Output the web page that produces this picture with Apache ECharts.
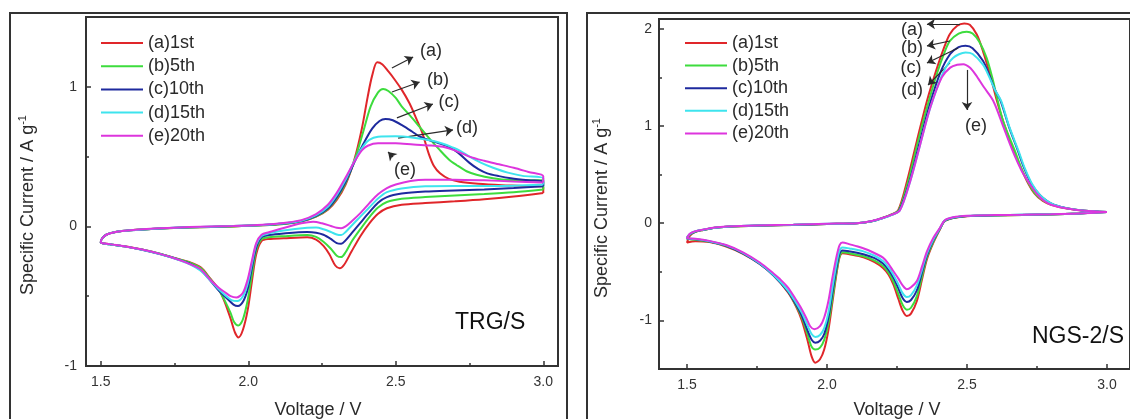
<!DOCTYPE html>
<html><head><meta charset="utf-8">
<script src="https://cdn.jsdelivr.net/npm/echarts@6/dist/echarts.min.js"></script>
<style>html,body{margin:0;padding:0;background:#fff}#c{width:1130px;height:419px}</style>
</head><body><div id="c"></div>
<script>
// ---------- categories / labels ----------
const cycleNames = ['(a)1st', '(b)5th', '(c)10th', '(d)15th', '(e)20th'];
const arrowLabels = ['(a)', '(b)', '(c)', '(d)', '(e)'];
const panelTitles = ['TRG/S', 'NGS-2/S'];
const xTitle = 'Voltage / V';
const yTitleMain = 'Specific Current / A g';
const yTitleSup = '-1';

// ---------- TRG/S panel: [voltage, current] ----------
const trg1stCathodic = [[3.0,0.24],[2.9,0.215],[2.8,0.195],[2.7,0.18],[2.6,0.167],[2.52,0.155],[2.47,0.13],[2.44,0.09],[2.41,0.02],[2.38,-0.07],[2.35,-0.18],[2.325,-0.275],[2.31,-0.3],[2.295,-0.28],[2.275,-0.2],[2.255,-0.14],[2.23,-0.095],[2.2,-0.078],[2.12,-0.085],[2.07,-0.09],[2.045,-0.105],[2.027,-0.2],[2.012,-0.4],[1.998,-0.6],[1.982,-0.74],[1.967,-0.795],[1.955,-0.76],[1.94,-0.66],[1.92,-0.54],[1.9,-0.45],[1.87,-0.37],[1.84,-0.295],[1.8,-0.255],[1.76,-0.232],[1.7,-0.195],[1.64,-0.165],[1.58,-0.142],[1.53,-0.127],[1.5,-0.115]];
const trg1stAnodic = [[1.505,-0.085],[1.52,-0.058],[1.55,-0.04],[1.6,-0.028],[1.7,-0.015],[1.8,-0.007],[1.95,0.0],[2.05,0.008],[2.12,0.018],[2.18,0.035],[2.23,0.07],[2.27,0.12],[2.3,0.19],[2.33,0.3],[2.36,0.48],[2.385,0.7],[2.405,0.93],[2.42,1.08],[2.437,1.175],[2.455,1.16],[2.475,1.11],[2.49,1.07],[2.52,0.98],[2.547,0.88],[2.57,0.77],[2.59,0.67],[2.612,0.52],[2.63,0.43],[2.65,0.38],[2.68,0.34],[2.716,0.32],[2.78,0.305],[2.86,0.295],[2.93,0.29],[3.0,0.28],[3.0,0.24]];
const trg5thCathodic = [[3.0,0.265],[2.9,0.245],[2.8,0.232],[2.7,0.222],[2.6,0.21],[2.52,0.198],[2.47,0.175],[2.44,0.135],[2.41,0.065],[2.38,-0.02],[2.35,-0.11],[2.33,-0.185],[2.315,-0.22],[2.3,-0.21],[2.28,-0.16],[2.255,-0.11],[2.23,-0.075],[2.2,-0.062],[2.12,-0.07],[2.07,-0.078],[2.045,-0.092],[2.027,-0.17],[2.012,-0.35],[1.998,-0.53],[1.982,-0.665],[1.966,-0.71],[1.952,-0.685],[1.94,-0.62],[1.92,-0.53],[1.9,-0.455],[1.87,-0.375],[1.84,-0.3],[1.8,-0.258],[1.76,-0.233],[1.7,-0.196],[1.64,-0.166],[1.58,-0.143],[1.53,-0.128],[1.5,-0.116]];
const trg5thAnodic = [[1.505,-0.085],[1.52,-0.058],[1.55,-0.04],[1.6,-0.028],[1.7,-0.015],[1.8,-0.007],[1.95,0.0],[2.05,0.008],[2.12,0.018],[2.18,0.036],[2.23,0.072],[2.27,0.125],[2.3,0.2],[2.33,0.31],[2.36,0.47],[2.39,0.68],[2.415,0.86],[2.44,0.96],[2.457,0.985],[2.475,0.97],[2.5,0.92],[2.52,0.86],[2.55,0.79],[2.58,0.715],[2.61,0.64],[2.648,0.55],[2.68,0.48],[2.706,0.44],[2.74,0.395],[2.774,0.37],[2.83,0.345],[2.885,0.332],[2.95,0.33],[3.0,0.33],[3.0,0.265]];
const trg10thCathodic = [[3.0,0.288],[2.9,0.275],[2.8,0.265],[2.7,0.258],[2.6,0.25],[2.52,0.235],[2.47,0.21],[2.44,0.17],[2.41,0.1],[2.38,0.025],[2.35,-0.05],[2.33,-0.1],[2.315,-0.125],[2.3,-0.12],[2.28,-0.09],[2.255,-0.06],[2.23,-0.045],[2.2,-0.04],[2.12,-0.05],[2.07,-0.062],[2.045,-0.078],[2.027,-0.15],[2.012,-0.3],[1.998,-0.45],[1.982,-0.54],[1.965,-0.57],[1.95,-0.56],[1.93,-0.52],[1.9,-0.46],[1.87,-0.385],[1.84,-0.315],[1.8,-0.265],[1.76,-0.235],[1.7,-0.198],[1.64,-0.167],[1.58,-0.143],[1.53,-0.128],[1.5,-0.116]];
const trg10thAnodic = [[1.505,-0.085],[1.52,-0.058],[1.55,-0.04],[1.6,-0.028],[1.7,-0.015],[1.8,-0.006],[1.95,0.002],[2.05,0.01],[2.12,0.02],[2.18,0.038],[2.23,0.076],[2.27,0.13],[2.3,0.21],[2.33,0.32],[2.36,0.46],[2.39,0.59],[2.42,0.7],[2.445,0.755],[2.465,0.77],[2.49,0.76],[2.525,0.72],[2.555,0.68],[2.58,0.645],[2.61,0.62],[2.64,0.6],[2.68,0.57],[2.71,0.53],[2.75,0.455],[2.78,0.41],[2.81,0.38],[2.85,0.36],[2.89,0.345],[2.95,0.33],[3.0,0.32],[3.0,0.288]];
const trg15thCathodic = [[3.0,0.3],[2.9,0.292],[2.8,0.29],[2.7,0.29],[2.6,0.288],[2.52,0.272],[2.47,0.245],[2.44,0.2],[2.41,0.135],[2.38,0.07],[2.35,0.005],[2.33,-0.04],[2.315,-0.062],[2.3,-0.058],[2.28,-0.04],[2.255,-0.02],[2.23,-0.008],[2.2,-0.01],[2.12,-0.03],[2.07,-0.05],[2.045,-0.068],[2.027,-0.13],[2.012,-0.27],[1.998,-0.41],[1.982,-0.5],[1.963,-0.535],[1.945,-0.53],[1.92,-0.49],[1.9,-0.45],[1.87,-0.385],[1.84,-0.32],[1.8,-0.27],[1.76,-0.237],[1.7,-0.198],[1.64,-0.167],[1.58,-0.143],[1.53,-0.128],[1.5,-0.116]];
const trg15thAnodic = [[1.505,-0.085],[1.52,-0.058],[1.55,-0.04],[1.6,-0.028],[1.7,-0.015],[1.8,-0.006],[1.95,0.002],[2.05,0.01],[2.12,0.022],[2.18,0.04],[2.23,0.08],[2.27,0.14],[2.3,0.225],[2.33,0.335],[2.36,0.47],[2.39,0.575],[2.41,0.62],[2.44,0.642],[2.5,0.645],[2.56,0.635],[2.62,0.615],[2.66,0.592],[2.69,0.568],[2.72,0.54],[2.75,0.5],[2.79,0.455],[2.83,0.42],[2.88,0.385],[2.93,0.362],[3.0,0.345],[3.0,0.3]];
const trg20thCathodic = [[3.0,0.315],[2.9,0.322],[2.8,0.33],[2.7,0.335],[2.6,0.335],[2.55,0.325],[2.5,0.3],[2.47,0.275],[2.44,0.23],[2.41,0.165],[2.38,0.095],[2.35,0.035],[2.33,0.0],[2.315,-0.013],[2.3,-0.01],[2.28,0.003],[2.25,0.022],[2.22,0.033],[2.18,0.022],[2.12,-0.012],[2.07,-0.042],[2.045,-0.06],[2.027,-0.12],[2.012,-0.25],[1.998,-0.38],[1.982,-0.475],[1.96,-0.51],[1.94,-0.5],[1.92,-0.47],[1.9,-0.44],[1.87,-0.38],[1.84,-0.31],[1.8,-0.268],[1.76,-0.236],[1.7,-0.197],[1.64,-0.166],[1.58,-0.142],[1.53,-0.127],[1.5,-0.115]];
const trg20thAnodic = [[1.505,-0.085],[1.52,-0.058],[1.55,-0.04],[1.6,-0.027],[1.7,-0.014],[1.8,-0.005],[1.95,0.003],[2.05,0.012],[2.12,0.025],[2.18,0.045],[2.23,0.088],[2.27,0.155],[2.3,0.24],[2.33,0.35],[2.36,0.465],[2.385,0.545],[2.405,0.578],[2.44,0.595],[2.5,0.595],[2.56,0.586],[2.62,0.58],[2.66,0.57],[2.7,0.545],[2.75,0.5],[2.8,0.47],[2.85,0.445],[2.9,0.42],[2.95,0.39],[3.0,0.36],[3.0,0.315]];

// ---------- NGS-2/S panel: [voltage, current] ----------
const ngs1stCathodic = [[3.0,0.115],[2.9,0.1],[2.8,0.09],[2.7,0.085],[2.6,0.08],[2.5,0.072],[2.45,0.052],[2.42,0.02],[2.404,-0.06],[2.38,-0.2],[2.357,-0.37],[2.34,-0.57],[2.321,-0.8],[2.3,-0.93],[2.285,-0.955],[2.27,-0.9],[2.255,-0.78],[2.237,-0.63],[2.22,-0.53],[2.2,-0.46],[2.17,-0.4],[2.13,-0.35],[2.08,-0.32],[2.055,-0.31],[2.045,-0.35],[2.035,-0.5],[2.02,-0.8],[2.005,-1.1],[1.99,-1.3],[1.975,-1.4],[1.958,-1.435],[1.945,-1.37],[1.93,-1.2],[1.91,-1.0],[1.89,-0.86],[1.86,-0.71],[1.81,-0.54],[1.76,-0.42],[1.7,-0.315],[1.64,-0.24],[1.58,-0.195],[1.53,-0.185],[1.5,-0.2]];
const ngs1stAnodic = [[1.51,-0.13],[1.53,-0.09],[1.558,-0.07],[1.6,-0.048],[1.642,-0.038],[1.75,-0.026],[1.88,-0.018],[2.0,-0.008],[2.106,0.0],[2.16,0.02],[2.2,0.055],[2.23,0.09],[2.254,0.13],[2.286,0.434],[2.321,0.846],[2.357,1.257],[2.393,1.597],[2.42,1.82],[2.439,1.946],[2.465,2.03],[2.49,2.055],[2.51,2.04],[2.535,1.94],[2.557,1.77],[2.583,1.52],[2.607,1.257],[2.63,1.04],[2.654,0.846],[2.685,0.62],[2.714,0.434],[2.74,0.31],[2.771,0.228],[2.8,0.19],[2.857,0.15],[2.92,0.128],[3.0,0.115]];
const ngs5thCathodic = [[3.0,0.115],[2.9,0.1],[2.8,0.09],[2.7,0.085],[2.6,0.08],[2.5,0.073],[2.45,0.054],[2.42,0.022],[2.404,-0.055],[2.38,-0.19],[2.357,-0.35],[2.34,-0.54],[2.321,-0.75],[2.3,-0.87],[2.285,-0.89],[2.27,-0.84],[2.255,-0.73],[2.237,-0.6],[2.22,-0.51],[2.2,-0.44],[2.17,-0.385],[2.13,-0.34],[2.08,-0.31],[2.055,-0.3],[2.045,-0.34],[2.035,-0.48],[2.02,-0.76],[2.005,-1.03],[1.99,-1.2],[1.975,-1.28],[1.958,-1.3],[1.945,-1.27],[1.93,-1.14],[1.91,-0.97],[1.89,-0.85],[1.86,-0.7],[1.81,-0.535],[1.76,-0.415],[1.7,-0.31],[1.64,-0.235],[1.58,-0.19],[1.53,-0.17],[1.5,-0.16]];
const ngs5thAnodic = [[1.51,-0.12],[1.53,-0.088],[1.558,-0.07],[1.6,-0.048],[1.642,-0.038],[1.75,-0.026],[1.88,-0.018],[2.0,-0.008],[2.106,0.0],[2.16,0.02],[2.2,0.055],[2.23,0.088],[2.256,0.13],[2.29,0.43],[2.325,0.84],[2.358,1.2],[2.394,1.55],[2.42,1.76],[2.439,1.874],[2.47,1.95],[2.499,1.97],[2.52,1.95],[2.545,1.86],[2.57,1.7],[2.59,1.5],[2.608,1.28],[2.63,1.04],[2.671,0.743],[2.695,0.56],[2.718,0.42],[2.745,0.3],[2.775,0.23],[2.8,0.195],[2.857,0.152],[2.92,0.128],[3.0,0.115]];
const ngs10thCathodic = [[3.0,0.115],[2.9,0.1],[2.8,0.091],[2.7,0.086],[2.6,0.081],[2.5,0.074],[2.45,0.056],[2.42,0.024],[2.404,-0.052],[2.38,-0.175],[2.357,-0.33],[2.34,-0.5],[2.321,-0.69],[2.3,-0.79],[2.285,-0.81],[2.27,-0.77],[2.255,-0.67],[2.237,-0.56],[2.22,-0.48],[2.2,-0.415],[2.17,-0.36],[2.13,-0.32],[2.08,-0.29],[2.055,-0.28],[2.045,-0.31],[2.035,-0.44],[2.02,-0.7],[2.005,-0.97],[1.99,-1.14],[1.975,-1.21],[1.958,-1.23],[1.945,-1.2],[1.93,-1.1],[1.91,-0.95],[1.89,-0.84],[1.86,-0.7],[1.81,-0.54],[1.76,-0.42],[1.7,-0.31],[1.64,-0.232],[1.58,-0.188],[1.53,-0.165],[1.5,-0.155]];
const ngs10thAnodic = [[1.51,-0.115],[1.53,-0.085],[1.558,-0.068],[1.6,-0.047],[1.642,-0.037],[1.75,-0.025],[1.88,-0.017],[2.0,-0.008],[2.106,0.0],[2.16,0.02],[2.2,0.053],[2.23,0.085],[2.258,0.13],[2.295,0.43],[2.33,0.82],[2.365,1.2],[2.405,1.55],[2.44,1.74],[2.47,1.81],[2.495,1.825],[2.52,1.8],[2.557,1.67],[2.58,1.52],[2.6,1.37],[2.62,1.257],[2.65,0.99],[2.682,0.743],[2.705,0.56],[2.731,0.4],[2.76,0.29],[2.785,0.23],[2.81,0.19],[2.86,0.152],[2.92,0.128],[3.0,0.115]];
const ngs15thCathodic = [[3.0,0.115],[2.9,0.1],[2.8,0.091],[2.7,0.086],[2.6,0.082],[2.5,0.075],[2.45,0.058],[2.42,0.026],[2.404,-0.05],[2.38,-0.165],[2.357,-0.31],[2.34,-0.47],[2.321,-0.64],[2.3,-0.74],[2.285,-0.76],[2.27,-0.72],[2.255,-0.63],[2.237,-0.53],[2.22,-0.455],[2.2,-0.39],[2.17,-0.335],[2.13,-0.29],[2.08,-0.26],[2.055,-0.25],[2.045,-0.28],[2.035,-0.4],[2.02,-0.65],[2.005,-0.92],[1.99,-1.08],[1.975,-1.15],[1.958,-1.17],[1.945,-1.14],[1.93,-1.05],[1.91,-0.92],[1.89,-0.82],[1.86,-0.69],[1.81,-0.535],[1.76,-0.415],[1.7,-0.305],[1.64,-0.228],[1.58,-0.185],[1.53,-0.162],[1.5,-0.155]];
const ngs15thAnodic = [[1.51,-0.112],[1.53,-0.083],[1.558,-0.067],[1.6,-0.046],[1.642,-0.036],[1.75,-0.024],[1.88,-0.016],[2.0,-0.007],[2.106,0.0],[2.16,0.02],[2.2,0.052],[2.23,0.083],[2.26,0.13],[2.297,0.43],[2.332,0.8],[2.367,1.17],[2.415,1.55],[2.45,1.7],[2.495,1.755],[2.52,1.74],[2.557,1.63],[2.58,1.5],[2.6,1.37],[2.622,1.257],[2.65,1.0],[2.684,0.743],[2.707,0.56],[2.733,0.4],[2.76,0.29],[2.785,0.23],[2.81,0.19],[2.86,0.152],[2.92,0.128],[3.0,0.115]];
const ngs20thCathodic = [[3.0,0.115],[2.9,0.1],[2.8,0.092],[2.7,0.087],[2.6,0.083],[2.5,0.076],[2.45,0.06],[2.42,0.028],[2.404,-0.045],[2.38,-0.15],[2.357,-0.29],[2.34,-0.44],[2.321,-0.595],[2.3,-0.66],[2.285,-0.68],[2.27,-0.64],[2.255,-0.57],[2.236,-0.49],[2.22,-0.42],[2.2,-0.355],[2.154,-0.286],[2.11,-0.24],[2.082,-0.218],[2.055,-0.198],[2.045,-0.225],[2.035,-0.33],[2.02,-0.55],[2.005,-0.8],[1.99,-0.97],[1.975,-1.06],[1.955,-1.09],[1.94,-1.06],[1.925,-0.97],[1.905,-0.86],[1.89,-0.79],[1.86,-0.66],[1.83,-0.57],[1.81,-0.52],[1.76,-0.405],[1.7,-0.3],[1.64,-0.225],[1.58,-0.182],[1.53,-0.16],[1.5,-0.155]];
const ngs20thAnodic = [[1.51,-0.11],[1.53,-0.082],[1.558,-0.066],[1.6,-0.045],[1.642,-0.035],[1.75,-0.023],[1.88,-0.015],[2.0,-0.006],[2.106,0.0],[2.16,0.022],[2.2,0.055],[2.23,0.085],[2.26,0.13],[2.297,0.43],[2.332,0.8],[2.37,1.2],[2.41,1.5],[2.44,1.6],[2.465,1.63],[2.487,1.635],[2.51,1.6],[2.53,1.53],[2.56,1.4],[2.594,1.257],[2.63,0.99],[2.663,0.743],[2.695,0.54],[2.725,0.4],[2.75,0.3],[2.775,0.23],[2.8,0.19],[2.857,0.15],[2.92,0.128],[3.0,0.115]];

// ---------- annotation arrows (data coords: [from, to]) ----------
const trgArrows = [[[2.487,1.135],[2.559,1.213]],[[2.487,0.963],[2.581,1.034]],[[2.504,0.777],[2.626,0.877]],[[2.508,0.633],[2.694,0.691]],[[2.491,0.497],[2.474,0.533]]];
const ngsArrows = [[[2.475,2.049],[2.357,2.049]],[[2.439,1.874],[2.357,1.823]],[[2.468,1.802],[2.357,1.648]],[[2.439,1.648],[2.361,1.421]],[[2.5,1.576],[2.5,1.164]]];

// ---------- styling ----------
const FONT = '"Liberation Sans", Arial, sans-serif';
const colors = ['#e0262a', '#3ddc3d', '#1e2a9e', '#3ee4ee', '#dd35dd'];
const INK = '#2a2a2a';

const trgCurves = [[trg1stCathodic,trg1stAnodic],[trg5thCathodic,trg5thAnodic],[trg10thCathodic,trg10thAnodic],[trg15thCathodic,trg15thAnodic],[trg20thCathodic,trg20thAnodic]];
const ngsCurves = [[ngs1stCathodic,ngs1stAnodic],[ngs5thCathodic,ngs5thAnodic],[ngs10thCathodic,ngs10thAnodic],[ngs15thCathodic,ngs15thAnodic],[ngs20thCathodic,ngs20thAnodic]];

function makeSeries(curves, arrows, axisIdx) {
  return curves.map((c, i) => ({
    type: 'line', name: cycleNames[i], xAxisIndex: axisIdx, yAxisIndex: axisIdx,
    data: c[0].concat(c[1]), showSymbol: false, smooth: 0.3, clip: false, silent: true,
    lineStyle: { width: 2, color: colors[i] }, itemStyle: { color: colors[i] },
    emphasis: { disabled: true }, z: 2 + i, animation: false,
    markLine: {
      silent: true, animation: false, symbol: ['none', 'arrow'], symbolSize: 8,
      lineStyle: { color: INK, width: 1.2, type: 'solid' }, label: { show: false },
      emphasis: { disabled: true },
      data: [[{ coord: arrows[i][0] }, { coord: arrows[i][1] }]]
    }
  }));
}

const tickStyle = { color: '#333', width: 1.5 };
function tickAxis(extra) {
  return Object.assign({
    type: 'value',
    axisLine: { show: false, onZero: false },
    axisTick: { show: true, inside: true, length: 5, lineStyle: tickStyle },
    minorTick: { show: true, splitNumber: 2, length: 3, lineStyle: tickStyle },
    splitLine: { show: false }, minorSplitLine: { show: false },
  }, extra);
}
const hiddenAxis = (g, min, max) => ({ type: 'value', gridIndex: g, min, max, show: false, axisLine: { onZero: false }, splitLine: { show: false } });

const frameStyle = { show: true, borderColor: '#333', borderWidth: 2, backgroundColor: 'transparent' };

const option = {
  backgroundColor: '#fff',
  animation: false,
  textStyle: { fontFamily: FONT },
  grid: [
    Object.assign({ left: 86, top: 17, width: 472, height: 349 }, frameStyle),
    { left: 100.75, top: 17, width: 442.5, height: 349 },
    { left: 86, top: 86.8, width: 472, height: 279.2 },
    Object.assign({ left: 659, top: 19, width: 476, height: 350 }, frameStyle),
    { left: 687, top: 19, width: 420, height: 350 },
    { left: 659, top: 28.72, width: 476, height: 291.67 }
  ],
  xAxis: [
    hiddenAxis(0, 1.45, 3.05),
    tickAxis({ gridIndex: 1, min: 1.5, max: 3.0, interval: 0.5,
      axisLabel: { color: '#333', fontSize: 14, fontFamily: FONT, margin: 9, formatter: v => v.toFixed(1) } }),
    hiddenAxis(2, 0, 1),
    hiddenAxis(3, 1.4, 3.1),
    tickAxis({ gridIndex: 4, min: 1.5, max: 3.0, interval: 0.5,
      axisLabel: { color: '#333', fontSize: 14, fontFamily: FONT, margin: 9, formatter: v => v.toFixed(1) } }),
    hiddenAxis(5, 0, 1)
  ],
  yAxis: [
    hiddenAxis(0, -1, 1.5),
    hiddenAxis(1, -1, 1.5),
    tickAxis({ gridIndex: 2, min: -1, max: 1, interval: 1,
      axisLabel: { color: '#333', fontSize: 14, fontFamily: FONT, margin: 9 } }),
    hiddenAxis(3, -1.5, 2.1),
    hiddenAxis(4, -1.5, 2.1),
    tickAxis({ gridIndex: 5, min: -1, max: 2, interval: 1,
      axisLabel: { color: '#333', fontSize: 14, fontFamily: FONT, margin: 7 } })
  ],
  legend: [
    { data: cycleNames, orient: 'vertical', left: 101, top: 34, padding: 0, itemWidth: 42, itemHeight: 2,
      itemGap: 5.2, icon: 'rect', selectedMode: false, textStyle: { fontSize: 18, color: INK, fontFamily: FONT } },
    { data: cycleNames, orient: 'vertical', left: 685, top: 34, padding: 0, itemWidth: 42, itemHeight: 2,
      itemGap: 4.6, icon: 'rect', selectedMode: false, textStyle: { fontSize: 18, color: INK, fontFamily: FONT } }
  ],
  graphic: [
    { type: 'rect', silent: true, shape: { x: 10, y: 13, width: 557, height: 430 }, style: { fill: 'none', stroke: '#333', lineWidth: 2 } },
    { type: 'rect', silent: true, shape: { x: 587, y: 13, width: 600, height: 430 }, style: { fill: 'none', stroke: '#333', lineWidth: 2 } },
    { type: 'text', silent: true, x: 28, y: 205, rotation: Math.PI / 2,
      style: { text: '{m|' + yTitleMain + '}{s|' + yTitleSup + '}', align: 'center', verticalAlign: 'middle', fill: INK,
        rich: { m: { fontSize: 18, lineHeight: 22, fontFamily: FONT, fill: INK }, s: { fontSize: 11, lineHeight: 12, verticalAlign: 'top', fontFamily: FONT, fill: INK } } } },
    { type: 'text', silent: true, x: 602, y: 208, rotation: Math.PI / 2,
      style: { text: '{m|' + yTitleMain + '}{s|' + yTitleSup + '}', align: 'center', verticalAlign: 'middle', fill: INK,
        rich: { m: { fontSize: 18, lineHeight: 22, fontFamily: FONT, fill: INK }, s: { fontSize: 11, lineHeight: 12, verticalAlign: 'top', fontFamily: FONT, fill: INK } } } },
    { type: 'text', silent: true, x: 318, y: 410, style: { text: xTitle, font: '18px ' + FONT, fill: INK, align: 'center', verticalAlign: 'middle' } },
    { type: 'text', silent: true, x: 897, y: 410, style: { text: xTitle, font: '18px ' + FONT, fill: INK, align: 'center', verticalAlign: 'middle' } },
    { type: 'text', silent: true, x: 455, y: 323, style: { text: panelTitles[0], font: '23px ' + FONT, fill: '#111', align: 'left', verticalAlign: 'middle' } },
    { type: 'text', silent: true, x: 1032, y: 337, style: { text: panelTitles[1], font: '23px ' + FONT, fill: '#111', align: 'left', verticalAlign: 'middle' } },
    // annotation labels, left panel
    { type: 'text', silent: true, x: 431, y: 51, style: { text: arrowLabels[0], font: '18px ' + FONT, fill: INK, align: 'center', verticalAlign: 'middle' } },
    { type: 'text', silent: true, x: 438, y: 80, style: { text: arrowLabels[1], font: '18px ' + FONT, fill: INK, align: 'center', verticalAlign: 'middle' } },
    { type: 'text', silent: true, x: 449, y: 102, style: { text: arrowLabels[2], font: '18px ' + FONT, fill: INK, align: 'center', verticalAlign: 'middle' } },
    { type: 'text', silent: true, x: 467, y: 128, style: { text: arrowLabels[3], font: '18px ' + FONT, fill: INK, align: 'center', verticalAlign: 'middle' } },
    { type: 'text', silent: true, x: 405, y: 170, style: { text: arrowLabels[4], font: '18px ' + FONT, fill: INK, align: 'center', verticalAlign: 'middle' } },
    // annotation labels, right panel
    { type: 'text', silent: true, x: 912, y: 30, style: { text: arrowLabels[0], font: '18px ' + FONT, fill: INK, align: 'center', verticalAlign: 'middle' } },
    { type: 'text', silent: true, x: 912, y: 48, style: { text: arrowLabels[1], font: '18px ' + FONT, fill: INK, align: 'center', verticalAlign: 'middle' } },
    { type: 'text', silent: true, x: 911, y: 68, style: { text: arrowLabels[2], font: '18px ' + FONT, fill: INK, align: 'center', verticalAlign: 'middle' } },
    { type: 'text', silent: true, x: 912, y: 90, style: { text: arrowLabels[3], font: '18px ' + FONT, fill: INK, align: 'center', verticalAlign: 'middle' } },
    { type: 'text', silent: true, x: 976, y: 126, style: { text: arrowLabels[4], font: '18px ' + FONT, fill: INK, align: 'center', verticalAlign: 'middle' } }
  ],
  series: makeSeries(trgCurves, trgArrows, 1).concat(makeSeries(ngsCurves, ngsArrows, 4))
};

const chart = echarts.init(document.getElementById('c'), null, { renderer: 'canvas' });
chart.setOption(option);
</script>
</body></html>
